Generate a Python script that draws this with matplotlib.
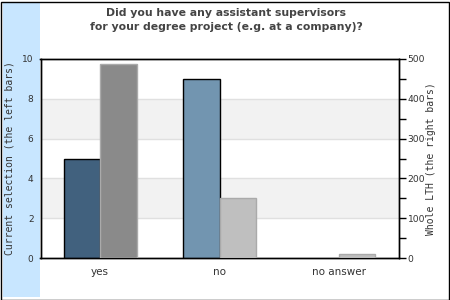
import matplotlib
matplotlib.use("Agg")
import matplotlib.pyplot as plt
from matplotlib.patches import Rectangle
from matplotlib.ticker import MultipleLocator

categories = ["yes", "no", "no answer"]
current = [5, 9, 0]
whole_lth = [487, 150, 10]
left_colors = ["#41617e", "#7295b0", "#7295b0"]
right_colors = ["#8a8a8a", "#bfbfbf", "#bfbfbf"]

title = "Did you have any assistant supervisors\nfor your degree project (e.g. at a company)?"

fig = plt.figure(figsize=(4.5, 3.0), dpi=100)

# frame and light blue strip on the left
fig.patches.append(Rectangle((3/450, 3/300), 37/450, 294/300, transform=fig.transFigure,
                             facecolor="#c8e6ff", edgecolor="none", zorder=-1))
fig.patches.append(Rectangle((0.5/450, 0.5/300), 448/450, 298/300, transform=fig.transFigure,
                             facecolor="none", edgecolor="black", linewidth=1.0, zorder=-1))

ax = fig.add_axes([40.5/450, 1 - 258/300, 358/450, 199/300])
ax.set_zorder(1)
ax2 = ax.twinx()
ax2.set_zorder(2)
ax2.patch.set_visible(False)

x = list(range(len(categories)))
w = 0.305
ax.bar([i - w/2 for i in x], current, width=w, color=left_colors,
       edgecolor="black", linewidth=[1.0 if v > 0 else 0 for v in current], zorder=3)
ax2.bar([i + w/2 for i in x], whole_lth, width=w, color=right_colors,
        edgecolor="#aaaaaa", linewidth=1.0, zorder=3)

ax.set_xlim(-0.5, 2.5)
ax.set_ylim(0, 10)
ax2.set_ylim(0, 500)

# background bands
for lo in (2, 6):
    ax.axhspan(lo, lo + 2, color="#f2f2f2", zorder=0, linewidth=0)
for y in (2, 4, 6, 8):
    ax.axhline(y, color="#e0e0e0", linewidth=1.0, zorder=1)

ax.set_xticks(x)
ax.set_xticklabels(categories, color="#333333", fontsize=7.5)
ax.tick_params(axis="x", length=0, pad=6.5)
ax.set_yticks([0, 2, 4, 6, 8, 10])
ax.tick_params(axis="y", length=0, pad=5, labelsize=6.5, labelcolor="#333333")

ax2.yaxis.set_major_locator(MultipleLocator(100))
ax2.yaxis.set_minor_locator(MultipleLocator(50))
ax2.tick_params(axis="y", which="major", length=5, width=1, pad=1.5,
                labelsize=6.6, labelcolor="#333333")
ax2.tick_params(axis="y", which="minor", length=5, width=1)

for a in (ax, ax2):
    for s in a.spines.values():
        s.set_linewidth(1.0)
        s.set_color("black")

ax.set_ylabel("Current selection (the left bars)", family="DejaVu Sans Mono",
              fontsize=7, color="#333333")
ax.yaxis.set_label_coords(-0.0726, 0.5)
ax2.set_ylabel("Whole LTH (the right bars)", family="DejaVu Sans Mono",
               fontsize=7, color="#333333", rotation=90)
ax2.yaxis.set_label_coords(1.078, 0.5)

fig.text(226/450, 1 - 20/300, title, ha="center", va="center", fontsize=7.8,
         fontweight="bold", color="#444444", linespacing=1.45)

fig.savefig("out.png", dpi=100)
